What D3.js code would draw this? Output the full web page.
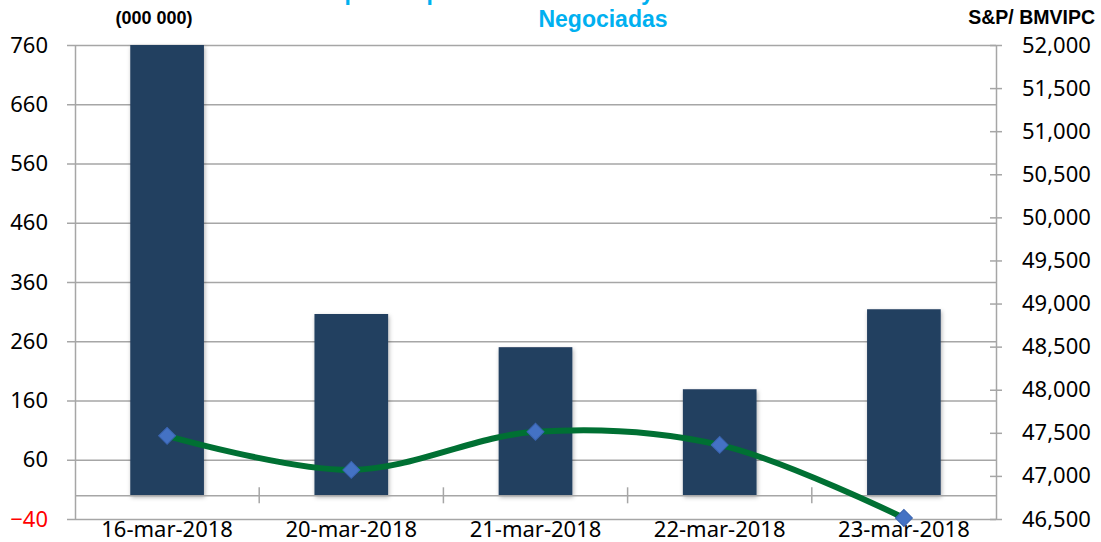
<!DOCTYPE html>
<html>
<head>
<meta charset="utf-8">
<script src="https://cdn.jsdelivr.net/npm/d3@7"></script>
<style>
  html, body { margin: 0; padding: 0; background: #fff; }
  svg { display: block; }
</style>
</head>
<body>
<svg id="chart"></svg>
<script>
// ---------------- data ----------------
const dates = ["16-mar-2018", "20-mar-2018", "21-mar-2018", "22-mar-2018", "23-mar-2018"];
const volume = [760, 306, 250, 179, 314];           // (000 000)
const index = [47465, 47070, 47512, 47360, 46512];   // S&P/ BMVIPC
const leftTicks = [760, 660, 560, 460, 360, 260, 160, 60, -40];
const rightTicks = [52000, 51500, 51000, 50500, 50000, 49500, 49000, 48500, 48000, 47500, 47000, 46500];

// ---------------- config ----------------
const width = 1101, height = 542;
const m = { left: 75, right: 105, top: 45, bottom: 23 };
const gridColor = "#a6a6a6";
const tickFont = "'Noto Sans', 'Open Sans', sans-serif";
const tickSize = 22;
const titleFont = "'Liberation Sans', Arial, sans-serif";

const svg = d3.select("#chart")
  .attr("width", width)
  .attr("height", height);

const defs = svg.append("defs");
const f = defs.append("filter").attr("id", "shadow")
  .attr("x", "-20%").attr("y", "-5%").attr("width", "140%").attr("height", "115%");
f.append("feDropShadow").attr("dx", 1).attr("dy", 2).attr("stdDeviation", 2)
  .attr("flood-color", "#000").attr("flood-opacity", 0.3);

const x = d3.scaleBand()
  .domain(dates)
  .range([m.left, width - m.right])
  .paddingInner(0.6)
  .paddingOuter(0.3);

const xBand = d3.scaleBand().domain(dates).range([m.left, width - m.right]);

const yL = d3.scaleLinear().domain([-40, 760]).range([height - m.bottom, m.top]);
const yR = d3.scaleLinear().domain([46500, 52000]).range([height - m.bottom, m.top]);

// gridlines (left axis)
svg.append("g")
  .attr("transform", `translate(${m.left},0)`)
  .call(d3.axisLeft(yL).tickValues(leftTicks).tickSize(-(width - m.left - m.right)).tickSizeOuter(0).tickFormat(""))
  .call(g => g.select(".domain").remove())
  .call(g => g.selectAll("line").attr("stroke", gridColor).attr("stroke-width", 1.5));

// left axis
const gl = svg.append("g")
  .attr("transform", `translate(${m.left},0)`)
  .call(d3.axisLeft(yL).tickValues(leftTicks).tickSize(8).tickSizeOuter(0).tickPadding(19));
gl.select(".domain").attr("stroke", gridColor).attr("stroke-width", 1.5);
gl.selectAll("line").attr("stroke", gridColor).attr("stroke-width", 1.5);
gl.selectAll("text")
  .attr("font-family", tickFont).attr("font-size", tickSize)
  .attr("fill", d => d < 0 ? "#ff0000" : "#000");

// right axis
const gr = svg.append("g")
  .attr("transform", `translate(${width - m.right},0)`)
  .call(d3.axisRight(yR).tickValues(rightTicks).tickSizeInner(6).tickSizeOuter(0).tickPadding(20)
    .tickFormat(d3.format(",")));
gr.select(".domain").attr("stroke", gridColor).attr("stroke-width", 1.5);
gr.selectAll(".tick line").attr("x1", -6).attr("stroke", gridColor).attr("stroke-width", 1.5);
gr.selectAll("text").attr("font-family", tickFont).attr("font-size", tickSize).attr("fill", "#000");

// bars
svg.append("g")
  .selectAll("rect")
  .data(dates.map((d, i) => ({ d, v: volume[i] })))
  .join("rect")
    .attr("x", d => x(d.d))
    .attr("width", x.bandwidth())
    .attr("y", d => yL(d.v))
    .attr("height", d => yL(0) - yL(d.v))
    .attr("fill", "#243f60")
    .attr("filter", "url(#shadow)");

// category axis at zero
const gx = svg.append("g")
  .attr("transform", `translate(0,${yL(0)})`)
  .call(d3.axisBottom(xBand).tickSize(0).tickFormat(""));
gx.select(".domain").attr("stroke", gridColor).attr("stroke-width", 1.5);
gx.selectAll(".tick").remove();
gx.selectAll(".sep")
  .data(dates.slice(1))
  .join("line")
    .attr("x1", d => xBand(d)).attr("x2", d => xBand(d))
    .attr("y1", -8).attr("y2", 8)
    .attr("stroke", gridColor).attr("stroke-width", 1.5);

// category labels under the plot
svg.append("g")
  .selectAll("text")
  .data(dates)
  .join("text")
    .attr("x", d => xBand(d) + xBand.bandwidth() / 2)
    .attr("y", height - 5)
    .attr("text-anchor", "middle")
    .attr("font-family", tickFont)
    .attr("font-size", tickSize)
    .attr("fill", "#000")
    .text(d => d);

// line
const pts = dates.map((d, i) => [xBand(d) + xBand.bandwidth() / 2, yR(index[i])]);
svg.append("path")
  .attr("d", d3.line().curve(d3.curveCatmullRom.alpha(0.5))(pts))
  .attr("fill", "none")
  .attr("stroke", "#007033")
  .attr("stroke-width", 6)
  .attr("stroke-linecap", "round");

svg.append("g")
  .selectAll("path")
  .data(pts)
  .join("path")
    .attr("transform", p => `translate(${p[0]},${p[1]}) rotate(45)`)
    .attr("d", "M-6,-6H6V6H-6Z")
    .attr("fill", "#4472c4")
    .attr("stroke", "#3a64b0")
    .attr("stroke-width", 1);

// titles
svg.append("text")
  .attr("x", 603).attr("y", 0)
  .attr("text-anchor", "middle")
  .attr("font-family", titleFont)
  .attr("font-weight", "bold").attr("font-size", 23)
  .attr("fill", "#00b0f0")
  .text("Importe Operado en Millones y Número de Acciones");
svg.append("text")
  .attr("x", 603).attr("y", 27)
  .attr("text-anchor", "middle")
  .attr("font-family", titleFont)
  .attr("font-weight", "bold").attr("font-size", 23)
  .attr("fill", "#00b0f0")
  .text("Negociadas");
svg.append("text")
  .attr("x", 154).attr("y", 24)
  .attr("text-anchor", "middle")
  .attr("font-family", titleFont)
  .attr("font-weight", "bold").attr("font-size", 18)
  .attr("fill", "#000")
  .text("(000 000)");
svg.append("text")
  .attr("x", 1095).attr("y", 24)
  .attr("text-anchor", "end")
  .attr("font-family", titleFont)
  .attr("font-weight", "bold").attr("font-size", 19.5)
  .attr("fill", "#000")
  .text("S&P/ BMVIPC");
</script>
</body>
</html>
